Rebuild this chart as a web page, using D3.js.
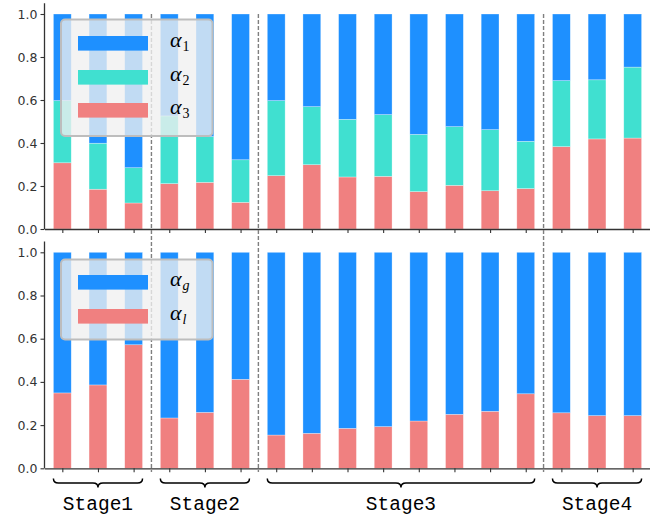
<!DOCTYPE html>
<html>
<head>
<meta charset="utf-8">
<script src="https://cdn.jsdelivr.net/npm/d3@7"></script>
<style>
  html, body { margin: 0; padding: 0; background: #fff; }
  svg { display: block; }
</style>
</head>
<body>
<svg id="chart" width="650" height="515"></svg>
<script>
// ---------------- data ----------------
const stages = ["Stage1", "Stage2", "Stage3", "Stage4"];
const stageSizes = [3, 3, 8, 3];
const yTicks = [0.0, 0.2, 0.4, 0.6, 0.8, 1.0];

// top panel (stacked: alpha3 bottom, alpha2 middle, alpha1 top)
const alpha3 = [0.308, 0.185, 0.121, 0.211, 0.217, 0.124, 0.248, 0.299, 0.242, 0.245, 0.174, 0.203, 0.178, 0.188, 0.383, 0.419, 0.423];
const alpha2 = [0.289, 0.214, 0.164, 0.315, 0.213, 0.198, 0.349, 0.270, 0.268, 0.287, 0.266, 0.273, 0.284, 0.220, 0.307, 0.275, 0.330];
const alpha1 = [0.403, 0.601, 0.715, 0.474, 0.570, 0.678, 0.403, 0.431, 0.490, 0.468, 0.560, 0.524, 0.538, 0.592, 0.310, 0.306, 0.247];

// bottom panel (stacked: alpha_l bottom, alpha_g top)
const alphaL = [0.349, 0.386, 0.572, 0.233, 0.259, 0.412, 0.154, 0.162, 0.185, 0.193, 0.219, 0.250, 0.264, 0.345, 0.257, 0.244, 0.244];
const alphaG = [0.651, 0.614, 0.428, 0.767, 0.741, 0.588, 0.846, 0.838, 0.815, 0.807, 0.781, 0.750, 0.736, 0.655, 0.743, 0.756, 0.756];

const colors = { a1: "#1E90FF", a2: "#40E0D0", a3: "#F08080" };

// ---------------- layout ----------------
const svg = d3.select("#chart");
const n = alpha3.length;
const x = d3.scaleLinear().domain([-0.5, n - 0.5]).range([44.5, 650.5]);
const barW = x(0.5) - x(0);

const panels = [
  { y0: 229, y1: 14,
    keys: ["a3", "a2", "a1"],
    rows: alpha3.map((v, i) => ({ a3: v, a2: alpha2[i], a1: alpha1[i] })),
    legend: [{ k: "a1", base: "α", sub: "1", subItalic: false },
             { k: "a2", base: "α", sub: "2", subItalic: false },
             { k: "a3", base: "α", sub: "3", subItalic: false }],
    legendBox: { x: 61, y: 19.5, w: 151.5, h: 116.5, rowY: [43.3, 77.3, 110.3] } },
  { y0: 468.3, y1: 252.3,
    keys: ["a3", "a1"],
    rows: alphaL.map((v, i) => ({ a3: v, a1: alphaG[i] })),
    legend: [{ k: "a1", base: "α", sub: "g", subItalic: true },
             { k: "a3", base: "α", sub: "l", subItalic: true }],
    legendBox: { x: 61, y: 259.5, w: 151.5, h: 80, rowY: [282.3, 316.3] } }
];

// dashed separators
const bounds = [];
let acc = 0;
stageSizes.forEach(s => { bounds.push([acc, acc + s - 1]); acc += s; });
const seps = bounds.slice(0, -1).map(b => b[1] + 0.5);

panels.forEach(p => {
  const y = d3.scaleLinear().domain([0, 1]).range([p.y0, p.y1]);
  const g = svg.append("g");

  const stack = d3.stack().keys(p.keys)(p.rows);
  stack.forEach(layer => {
    g.append("g").selectAll("rect").data(layer).join("rect")
      .attr("x", (d, i) => x(i) - barW / 2)
      .attr("width", barW)
      .attr("y", d => y(d[1]))
      .attr("height", d => y(d[0]) - y(d[1]))
      .attr("fill", colors[layer.key])
      .attr("stroke", "#ffffff")
      .attr("stroke-opacity", 0.5)
      .attr("stroke-width", 0.6);
  });

  // axes
  const yTop = y(1.05);
  const yAxis = g.append("g").attr("transform", `translate(${x(-0.5)},0)`)
    .call(d3.axisLeft(y).tickValues(yTicks).tickFormat(d3.format(".1f")).tickSize(4).tickSizeOuter(0));
  yAxis.select(".domain").attr("d", `M0,${yTop}V${p.y0}`);
  const xAxis = g.append("g").attr("transform", `translate(0,${p.y0})`)
    .call(d3.axisBottom(x).tickValues(d3.range(n)).tickFormat("").tickSize(4).tickSizeOuter(0));
  [yAxis, xAxis].forEach(a => {
    a.select(".domain").attr("stroke", "#333").attr("stroke-width", 1.3);
    a.selectAll(".tick line").attr("stroke", "#333").attr("stroke-width", 1.1);
    a.selectAll(".tick text").attr("fill", "#333")
      .style("font-family", "DejaVu Sans").style("font-size", "12.5px");
  });
  yAxis.selectAll(".tick text").attr("x", -7);
});

// dashed vertical lines
svg.append("g").selectAll("line").data(seps).join("line")
  .attr("x1", d => x(d)).attr("x2", d => x(d))
  .attr("y1", 14).attr("y2", 472)
  .attr("stroke", "#7f7f7f").attr("stroke-width", 1.4)
  .attr("stroke-dasharray", "4,2");

// legends (drawn on top)
panels.forEach(p => {
  const L = p.legendBox;
  const lg = svg.append("g");
  lg.append("rect")
    .attr("x", L.x).attr("y", L.y).attr("width", L.w).attr("height", L.h)
    .attr("rx", 4).attr("ry", 4)
    .attr("fill", "#f0f0f0").attr("fill-opacity", 0.78)
    .attr("stroke", "#bdbdbd").attr("stroke-width", 2);
  p.legend.forEach((it, i) => {
    const cy = L.rowY[i];
    lg.append("rect").attr("x", 78).attr("y", cy - 7.3).attr("width", 70).attr("height", 14.6)
      .attr("fill", colors[it.k]);
    const t = lg.append("text").attr("x", 170).attr("y", cy + 4)
      .style("font-family", "Liberation Serif").style("font-size", "22px").attr("fill", "#000");
    t.append("tspan").text(it.base).style("font-style", "italic");
    t.append("tspan").attr("dy", 4).attr("dx", 1).text(it.sub)
      .style("font-size", "14px").style("font-style", it.subItalic ? "italic" : "normal");
  });
});

// braces and stage labels
const braceG = svg.append("g");
const yb0 = 478.5, yb1 = 483, yb2 = 487.5, r = 5;
bounds.forEach((b, i) => {
  const x1 = x(b[0] - 0.25), x2 = x(b[1] + 0.25), xm = (x1 + x2) / 2;
  const path = `M${x1},${yb0} Q${x1},${yb1} ${x1 + r},${yb1} L${xm - r},${yb1} Q${xm},${yb1} ${xm},${yb2} ` +
               `Q${xm},${yb1} ${xm + r},${yb1} L${x2 - r},${yb1} Q${x2},${yb1} ${x2},${yb0}`;
  braceG.append("path").attr("d", path).attr("fill", "none")
    .attr("stroke", "#000").attr("stroke-width", 1.5);
  braceG.append("text").attr("x", xm).attr("y", 509.5).attr("text-anchor", "middle")
    .style("font-family", "Liberation Mono").style("font-size", "19.5px").attr("fill", "#000")
    .text(stages[i]);
});
</script>
</body>
</html>
